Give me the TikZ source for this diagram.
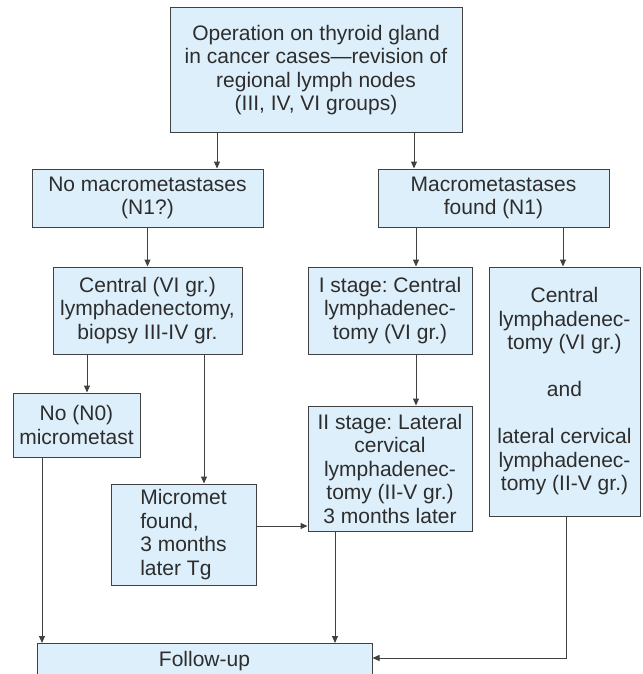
\documentclass[tikz,border=0pt]{standalone}
\usepackage{fontspec}
\setmainfont{Liberation Sans}
\frenchspacing
\usetikzlibrary{arrows.meta}
\definecolor{boxfill}{RGB}{221,239,250}
\definecolor{boxline}{RGB}{65,65,65}
\definecolor{txt}{RGB}{45,45,45}
\begin{document}
\begin{tikzpicture}[x=1pt,y=-1pt,
  box/.style={draw=boxline, fill=boxfill, line width=1pt, inner sep=0pt,
    align=center, text=txt, font=\fontsize{21}{23.5}\selectfont},
  arr/.style={draw=boxline, line width=1pt, -{Triangle[length=7pt,width=6pt]}},
  ln/.style={draw=boxline, line width=1pt}]
\useasboundingbox (0,0) rectangle (642,674);
\fill[white] (0,0) rectangle (642,674);

\node[box, minimum width=292pt, minimum height=124pt] (top) at (316,70)
  {Operation on thyroid gland\\in cancer cases—revision of\\regional lymph nodes\\(III, IV, VI groups)};
\node[box, minimum width=231pt, minimum height=58pt] (nomac) at (147.5,198)
  {No macrometastases\\(N1?)};
\node[box, minimum width=231pt, minimum height=58pt] (mac) at (493.5,198)
  {Macrometastases\\found (N1)};
\node[box, minimum width=189pt, minimum height=87pt] (cen) at (147.5,310.5)
  {Central (VI gr.)\\lymphadenectomy,\\biopsy III-IV gr.};
\node[box, minimum width=164pt, minimum height=87pt] (st1) at (390,310.5)
  {I stage: Central\\lymphadenec-\\tomy (VI gr.)};
\node[box, minimum width=151pt, minimum height=249pt] (rb) at (564.5,391.5)
  {Central\\lymphadenec-\\tomy (VI gr.)\\[23.5pt]and\\[23.5pt]lateral cervical\\lymphadenec-\\tomy (II-V gr.)};
\node[box, minimum width=127pt, minimum height=64pt] (n0) at (76.5,425)
  {No (N0)\\micrometast};
\node[box, minimum width=164pt, minimum height=125pt] (st2) at (390,468.5)
  {II stage: Lateral\\cervical\\lymphadenec-\\tomy (II-V gr.)\\3 months later};
\node[box, align=left, minimum width=145pt, minimum height=101pt] (mm) at (183.5,534.5)
  {Micromet\\found,\\3 months\\later Tg};
\node[box, anchor=north, minimum width=335pt, inner ysep=0pt, text height=22.5pt, text depth=17.5pt] (fu) at (204.5,643)
  {Follow-up};

\coordinate (xa) at (217,0);
\coordinate (xb) at (414,0);
\coordinate (xc) at (416,0);
\coordinate (xd) at (563,0);
\coordinate (xe) at (87,0);
\coordinate (xf) at (204,0);
\coordinate (xg) at (42,0);
\coordinate (xh) at (335,0);
\coordinate (xi) at (566,0);
\coordinate (ya) at (0,526);
\coordinate (yb) at (0,658);
\coordinate (bend) at (566,658);

\draw[arr] (top.south -| xa) -- (nomac.north -| xa);
\draw[arr] (top.south -| xb) -- (mac.north -| xb);
\draw[arr] (nomac.south) -- (cen.north);
\draw[arr] (mac.south -| xc) -- (st1.north -| xc);
\draw[arr] (mac.south -| xd) -- (rb.north -| xd);
\draw[arr] (cen.south -| xe) -- (n0.north -| xe);
\draw[arr] (cen.south -| xf) -- (mm.north -| xf);
\draw[arr] (st1.south -| xc) -- (st2.north -| xc);
\draw[arr] (mm.east |- ya) -- (st2.west |- ya);
\draw[arr] (n0.south -| xg) -- (fu.north -| xg);
\draw[arr] (st2.south -| xh) -- (fu.north -| xh);
\draw[arr] (rb.south -| xi) -- (bend) -- (fu.east |- yb);
\end{tikzpicture}
\end{document}
